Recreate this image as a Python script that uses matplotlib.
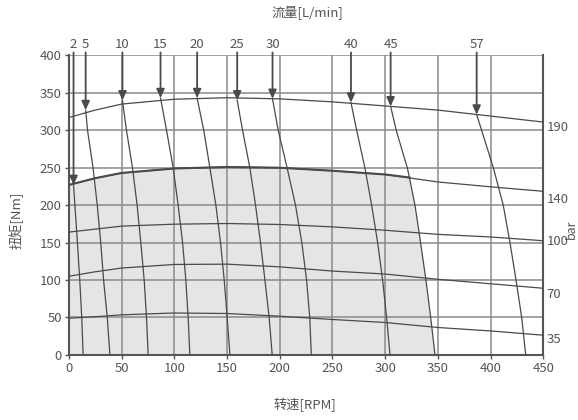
import matplotlib
matplotlib.use("Agg")
import matplotlib.pyplot as plt
import numpy as np

plt.rcParams['font.family'] = ['Noto Sans CJK SC', 'DejaVu Sans']
plt.rcParams['font.size'] = 9.5

# pressure curves: torque [Nm] vs speed [RPM]
rpm_p = [0, 25, 50, 100, 150, 200, 250, 300, 350, 400, 450]
bar190 = [317, 327, 335, 341.5, 343.5, 342, 338, 332.5, 327, 319, 311]
bar140 = [227, 236, 243, 249, 251, 250, 246, 241, 231, 224.5, 218.5]
bar100 = [164, 168, 172, 174.6, 175.5, 174.2, 171, 166.5, 161, 157.5, 152.5]
bar70 = [105, 111, 116, 120.8, 121.2, 117.6, 112, 108, 101, 95, 89]
bar35 = [49, 51, 53.5, 56, 55.3, 51.7, 47.3, 43.3, 36.6, 32, 26.3]
pressure_curves = [bar190, bar140, bar100, bar70, bar35]
pressure_labels = ["190", "140", "100", "70", "35"]
pressure_label_y = [304, 208, 152, 81, 21]

# flow curves [L/min]: (rpm, torque) points, first point = arrow tip
flow_labels = ["2", "5", "10", "15", "20", "25", "30", "40", "45", "57"]
flow_rpm = [
    [4.5, 5.8, 8.2, 10.4, 12.3, 13.6],
    [16, 17.8, 23, 27, 30.3, 33, 36.5, 39],
    [50.9, 54.7, 60.4, 64.8, 68.3, 71.5, 73.7, 75.3],
    [87, 92.7, 99, 103.7, 107.9, 111, 113.2, 114.8],
    [121.7, 128, 133.8, 139.5, 143.9, 147.4, 150.2, 152.8],
    [159.7, 164.8, 171.7, 177.1, 181.8, 186, 190, 192.9],
    [193.2, 198.6, 207, 215, 221, 225.5, 228.5, 230],
    [267.6, 273, 280.8, 287.2, 292.9, 297.6, 301.4, 304.6],
    [305.2, 310.5, 321, 323, 328.3, 333.6, 338.7, 343.2, 347.3],
    [386.8, 391.5, 402.6, 412, 418.4, 424.1, 429.5, 433.3],
]
flow_torque = [
    [227, 200, 150, 100, 50, 0],
    [327, 300, 250, 200, 150, 100, 50, 0],
    [340, 300, 250, 200, 150, 100, 50, 0],
    [343, 300, 250, 200, 150, 100, 50, 0],
    [343, 300, 250, 200, 150, 100, 50, 0],
    [340, 300, 250, 200, 150, 100, 50, 0],
    [342, 300, 250, 200, 150, 100, 50, 0],
    [337, 300, 250, 200, 150, 100, 50, 0],
    [332, 300, 250, 237, 200, 150, 100, 50, 0],
    [321, 300, 250, 200, 150, 100, 50, 0],
]

line_c = "#4a4a4a"
grid_c = "#8a8a8a"
text_c = "#555555"

fig = plt.figure(figsize=(5.78, 4.2), dpi=100)
ax = fig.add_axes([0.119, 0.155, 0.821, 0.713])

# shaded working area: 140 bar curve + 45 L/min curve
r140 = np.array(rpm_p)
t140 = np.array(bar140)
r45 = np.array(flow_rpm[8])
t45 = np.array(flow_torque[8])
keep = r140 < r45[3]
poly_x = np.concatenate([[0], r140[keep], r45[3:], [0]])
poly_y = np.concatenate([[0], t140[keep], t45[3:], [0]])
ax.fill(poly_x, poly_y, color="#e5e5e8", zorder=0, lw=0)

for v in range(0, 451, 50):
    ax.axvline(v, color=grid_c, lw=1.1, zorder=1)
for h in range(0, 401, 50):
    ax.axhline(h, color=grid_c, lw=1.1, zorder=1)

for curve, lab, ly in zip(pressure_curves, pressure_labels, pressure_label_y):
    ax.plot(rpm_p, curve, color=line_c, lw=0.9, zorder=3)
    ax.text(453, ly, lab, color=text_c, va="center", ha="left", fontsize=9.5, clip_on=False)
ax.plot(np.append(r140[keep], r45[3]), np.append(t140[keep], t45[3]),
        color=line_c, lw=1.5, zorder=3)

for lab, rs, ts in zip(flow_labels, flow_rpm, flow_torque):
    ax.plot(rs, ts, color=line_c, lw=0.9, zorder=3)
    ax.annotate("", xy=(rs[0], ts[0]), xytext=(rs[0], 404),
                arrowprops=dict(arrowstyle="-|>,head_length=0.55,head_width=0.25",
                                color=line_c, lw=1.3, shrinkA=0, shrinkB=0),
                annotation_clip=False, zorder=4)
    ax.text(rs[0], 406, lab, color=text_c, ha="center", va="bottom", fontsize=9.5)

ax.set_xlim(0, 450)
ax.set_ylim(0, 400)
ax.set_xticks(range(0, 451, 50))
ax.set_yticks(range(0, 401, 50))
ax.tick_params(colors=text_c, labelcolor=text_c, length=3, width=1, labelsize=9.5, pad=2)
for side in ["left", "bottom", "right"]:
    ax.spines[side].set_color("#555555")
    ax.spines[side].set_linewidth(1.5)
ax.spines["top"].set_visible(False)

fig.text(0.531, 0.971, "流量[L/min]", ha="center", va="center", color=text_c, fontsize=9.5)
fig.text(0.528, 0.035, "转速[RPM]", ha="center", va="center", color=text_c, fontsize=9.5)
fig.text(0.028, 0.476, "扭矩[Nm]", ha="center", va="center", rotation=90, color=text_c, fontsize=9.5)
ax.text(476.5, 168, "bar", rotation=90, ha="center", va="center", color=text_c, fontsize=9, clip_on=False)

fig.savefig("out.png", dpi=100)
